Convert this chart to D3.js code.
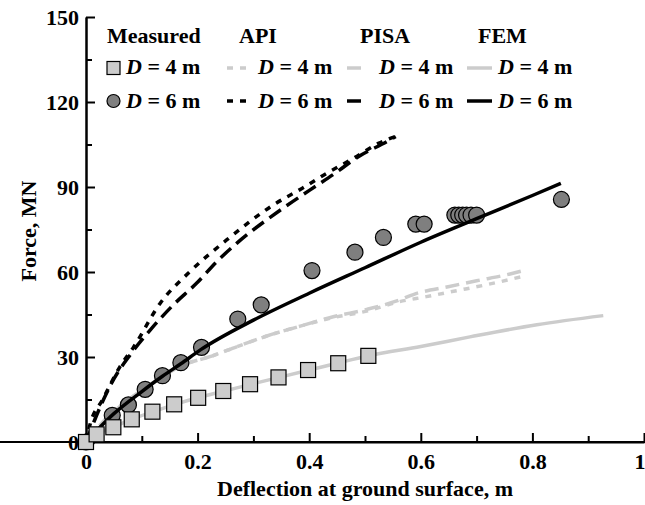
<!DOCTYPE html>
<html><head><meta charset="utf-8">
<script src="https://cdn.jsdelivr.net/npm/d3@7"></script>
<style>
body{margin:0;background:#fff;}
text{font-family:"Liberation Serif","Times New Roman",serif;font-weight:bold;fill:#000;}
</style></head>
<body><svg id="c" width="645" height="505"></svg>
<script>
// Measured data
const measuredD4 = [[0,0],[0.019,2.7],[0.049,5.2],[0.082,8.0],[0.119,10.7],[0.158,13.3],[0.201,15.6],[0.246,18.0],[0.294,20.4],[0.345,22.8],[0.398,25.4],[0.452,27.8],[0.506,30.4]];
const measuredD6 = [[0,0],[0.047,9.4],[0.076,13.1],[0.106,18.6],[0.137,23.4],[0.170,28.0],[0.207,33.4],[0.272,43.4],[0.314,48.4],[0.405,60.5],[0.482,67.0],[0.533,72.2],[0.591,76.9],[0.606,76.9],[0.661,80.1],[0.668,80.1],[0.675,80.1],[0.682,80.1],[0.690,80.1],[0.700,80.1],[0.852,85.6]];
// API
const apiD4 = [[0,0],[0.03,7],[0.06,12.4],[0.1,18.3],[0.14,23.4],[0.174,27.2],[0.222,30.1],[0.27,33.6],[0.324,37.4],[0.384,40.9],[0.443,43.9],[0.503,46.2],[0.557,49.3],[0.61,51.3],[0.664,53.4],[0.715,55.4],[0.78,58.3]];
const apiD6 = [[0,0],[0.007,6],[0.03,15],[0.061,26.6],[0.085,33.4],[0.133,49],[0.186,60.1],[0.252,71.3],[0.336,83.7],[0.387,89.5],[0.431,94.8],[0.479,100.1],[0.524,105.4],[0.563,108.4]];
// PISA
const pisaD4 = [[0,0],[0.03,7],[0.06,12.4],[0.1,18.3],[0.14,23.4],[0.174,27.2],[0.222,30.1],[0.27,33.6],[0.324,37.4],[0.384,40.9],[0.443,44.2],[0.503,46.8],[0.557,49.8],[0.59,52.3],[0.649,54.8],[0.7,56.9],[0.76,59.3],[0.784,60.5]];
const pisaD6 = [[0,0],[0.015,7.5],[0.031,14.8],[0.045,20.5],[0.08,31],[0.115,39.5],[0.156,48.3],[0.198,56],[0.234,63.6],[0.27,70.1],[0.353,82.5],[0.401,88.9],[0.446,94.8],[0.488,100.7],[0.539,106],[0.555,107.8]];
// FEM
const femD4 = [[0,0],[0.02,2.8],[0.05,5.3],[0.08,7.9],[0.12,10.7],[0.16,13.3],[0.2,15.6],[0.25,18.1],[0.3,20.6],[0.35,23],[0.4,25.4],[0.45,27.8],[0.509,30.5],[0.6,33.7],[0.688,37.1],[0.808,41.4],[0.927,44.6]];
const femD6 = [[0,0],[0.05,10],[0.1,17.8],[0.137,23.2],[0.17,27.6],[0.205,32.5],[0.3,43],[0.4,52.5],[0.5,61.5],[0.6,70.5],[0.7,78.8],[0.8,87],[0.851,91.3]];
// Axis ticks
const xTicks = [0,0.2,0.4,0.6,0.8,1];
const xTickLabels = ["0","0.2","0.4","0.6","0.8","1"];
const xMinor = [0.1,0.3,0.5,0.7,0.9];
const yTicks = [0,30,60,90,120,150];
const yMinor = [15,45,75,105,135];
const groups = ["Measured","API","PISA","FEM"];
const rowLabels = ["4","6"];

const svg = d3.select("#c");
const x = d3.scaleLinear().domain([0,1]).range([86,644]);
const y = d3.scaleLinear().domain([0,150]).range([442,17]);

const FS = 22;
// axes
const gx = svg.append("g").attr("transform","translate(0,442)")
  .call(d3.axisBottom(x).tickValues(xTicks).tickFormat((d,i)=>xTickLabels[i]).tickSizeInner(-9).tickSizeOuter(0).tickPadding(11));
svg.append("g").attr("transform","translate(0,442)")
  .call(d3.axisBottom(x).tickValues(xMinor).tickFormat("").tickSizeInner(-6).tickSizeOuter(0));
const gy = svg.append("g").attr("transform","translate(86,0)")
  .call(d3.axisLeft(y).tickValues(yTicks).tickSizeInner(-9).tickSizeOuter(0).tickPadding(7));
svg.append("g").attr("transform","translate(86,0)")
  .call(d3.axisLeft(y).tickValues(yMinor).tickFormat("").tickSizeInner(-6).tickSizeOuter(0));
svg.selectAll(".domain").attr("stroke","#000").attr("stroke-width",2);
svg.selectAll(".tick line").attr("stroke","#000").attr("stroke-width",2);
svg.selectAll(".tick text").style("font-family","Liberation Serif").style("font-weight","bold").style("font-size",FS+"px").attr("fill","#000");
gy.selectAll(".tick text").attr("dy","0.36em");
// last x label kept inside the frame
gx.selectAll(".tick text").filter((d)=>d===1).attr("text-anchor","end").attr("x",1);
gx.select(".domain").attr("d","M0,0H645");

svg.append("text").attr("x",365).attr("y",496).attr("text-anchor","middle").style("font-size",FS+"px").text("Deflection at ground surface, m");
svg.append("text").attr("transform","translate(36,231) rotate(-90)").attr("text-anchor","middle").style("font-size",FS+"px").text("Force, MN");

const line = d3.line().x(d=>x(d[0])).y(d=>y(d[1])).curve(d3.curveMonotoneX);
const LG = "#cccccc";
const styles = {
  api4:{c:LG,dash:"6,7"}, pisa4:{c:LG,dash:"14,7"},
  api6:{c:"#000",dash:"6,7"}, pisa6:{c:"#000",dash:"14,7"},
  fem4:{c:LG,dash:null}, fem6:{c:"#000",dash:null}
};
function drawLine(data, st){
  svg.append("path").datum(data).attr("d",line).attr("fill","none")
    .attr("stroke",st.c).attr("stroke-width",3.5).attr("stroke-dasharray",st.dash);
}
drawLine(apiD4,styles.api4);
drawLine(pisaD4,styles.pisa4);
drawLine(femD4,styles.fem4);
drawLine(apiD6,styles.api6);
drawLine(pisaD6,styles.pisa6);
svg.selectAll("circle.m6").data(measuredD6).enter().append("circle").attr("class","m6")
  .attr("cx",d=>x(d[0])).attr("cy",d=>y(d[1])).attr("r",8).attr("fill","#7f7f7f").attr("stroke","#000").attr("stroke-width",1.2);
drawLine(femD6,styles.fem6);
svg.selectAll("rect.m4").data(measuredD4).enter().append("rect").attr("class","m4")
  .attr("x",d=>x(d[0])-7.5).attr("y",d=>y(d[1])-7.5).attr("width",15).attr("height",15).attr("fill","#cccccc").attr("stroke","#000").attr("stroke-width",1.2);

// legend
const headerX = [107,239,360,478];
groups.forEach((g,i)=>svg.append("text").attr("x",headerX[i]).attr("y",43).style("font-size",FS+"px").text(g));
const rowBase = [74,108], rowMid = [68,101];
const textX = [126,258,379,498];
function legText(xp, yp, v){
  const t = svg.append("text").attr("x",xp).attr("y",yp).style("font-size",FS+"px");
  t.append("tspan").style("font-style","italic").text("D");
  t.append("tspan").text(" = "+v+" m");
}
rowLabels.forEach((v,r)=>{ textX.forEach(tx=>legText(tx,rowBase[r],v)); });
// markers
svg.append("rect").attr("x",107).attr("y",rowMid[0]-6.5).attr("width",13).attr("height",13).attr("fill","#cccccc").attr("stroke","#000").attr("stroke-width",1.2);
svg.append("circle").attr("cx",113.5).attr("cy",rowMid[1]).attr("r",6.5).attr("fill","#7f7f7f").attr("stroke","#000").attr("stroke-width",1.2);
function legLine(x1,x2,yy,st){
  svg.append("line").attr("x1",x1).attr("x2",x2).attr("y1",yy).attr("y2",yy).attr("stroke",st.c).attr("stroke-width",3.5).attr("stroke-dasharray",st.dash);
}
legLine(227,248,rowMid[0],styles.api4); legLine(227,248,rowMid[1],styles.api6);
legLine(347,361,rowMid[0],styles.pisa4); legLine(347,361,rowMid[1],styles.pisa6);
legLine(467,492,rowMid[0],styles.fem4); legLine(467,492,rowMid[1],styles.fem6);
</script></body></html>
